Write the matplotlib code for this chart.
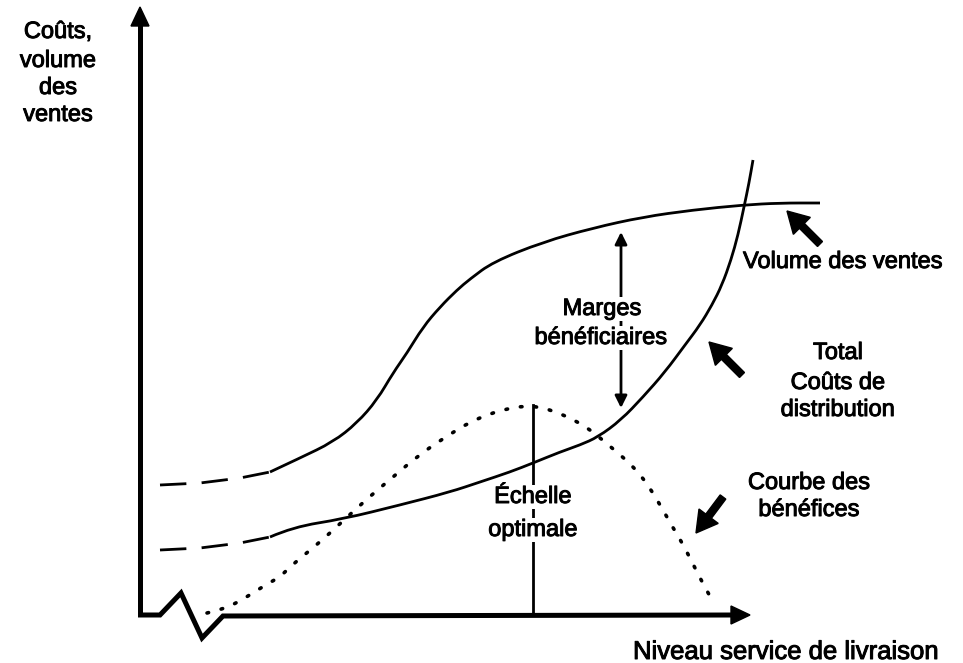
import matplotlib.pyplot as plt
import matplotlib.patheffects as pe
from matplotlib.patches import FancyArrow, Polygon, PathPatch
from matplotlib.path import Path

vol_dash_x = [160, 200, 240, 270]
vol_dash_y = [485, 483, 478, 472]
vol_x = [270, 300, 333, 357, 377, 393, 407, 423, 440, 457, 470, 493, 543, 593, 643, 693, 743, 780, 820]
vol_y = [472, 458, 442, 423, 400, 373, 353, 327, 307, 290, 279, 262, 242, 228, 217, 210, 205, 203, 203]

cost_dash_x = [160, 200, 240, 270]
cost_dash_y = [550, 548, 543, 537]
cost_x = [270, 293, 343, 400, 450, 480, 510, 533, 560, 580, 598, 621, 643, 665, 685, 700,
          712, 722, 731, 738, 744, 749, 753]
cost_y = [537, 527, 519, 505, 492, 482, 472, 463, 452, 445, 437, 420, 397, 372, 345, 325,
          305, 285, 260, 235, 207, 183, 160]

profit_x = [207, 224, 238, 253, 267, 280, 293, 319, 344, 368, 393, 419, 447, 470, 492, 507,
            523, 540, 556, 572, 586, 599, 612, 625, 638, 650, 663, 672, 681, 689, 700, 712]
profit_y = [613, 609, 602, 593, 584, 577, 564, 543, 520, 498, 477, 455, 436, 422, 413, 409,
            406, 407, 412, 419, 427, 437, 448, 459, 472, 488, 510, 526, 541, 556, 578, 600]

# axe horizontal avec la cassure
axis_x = [138, 160, 181, 202, 223, 735]
axis_y = [615, 615, 593, 638, 616, 615]

optimum_x = 533
optimum_top = 405

# flèches pointeurs (queue -> pointe)
pointers = [((820, 244), (787, 211)),
            ((742, 375), (709, 342)),
            ((723, 497), (696, 533))]

plt.rcParams['font.family'] = ['Liberation Sans', 'DejaVu Sans']


def smooth_path(xs, ys):
    # courbe quadratique passant par les milieux des segments
    pts = list(zip(xs, ys))
    verts = [pts[0]]
    codes = [Path.MOVETO]
    for i in range(1, len(pts) - 1):
        mid = ((pts[i][0] + pts[i + 1][0]) / 2, (pts[i][1] + pts[i + 1][1]) / 2)
        verts += [pts[i], mid]
        codes += [Path.CURVE3, Path.CURVE3]
    verts.append(pts[-1])
    codes.append(Path.LINETO)
    return Path(verts, codes)


fig = plt.figure(figsize=(9.63, 6.63), dpi=100)
ax = fig.add_axes([0, 0, 1, 1])
ax.set_xlim(0, 963)
ax.set_ylim(663, 0)
ax.axis('off')

lw_axis = 3.6
ax.plot([140, 140], [615, 22], color='black', lw=lw_axis, solid_capstyle='butt')
ax.add_patch(Polygon([[140, 7], [131, 26], [149, 26]], closed=True, color='black'))
ax.plot(axis_x, axis_y, color='black', lw=lw_axis, solid_joinstyle='miter',
        solid_capstyle='butt')
ax.add_patch(Polygon([[750, 615], [731, 606], [731, 624]], closed=True, color='black'))

lw_curve = 2.0
dashes = (9.5, 5.5)
ax.plot(vol_dash_x, vol_dash_y, color='black', lw=lw_curve, dashes=dashes)
ax.add_patch(PathPatch(smooth_path(vol_x, vol_y), fill=False, lw=lw_curve,
                       edgecolor='black', joinstyle='round'))
ax.plot(cost_dash_x, cost_dash_y, color='black', lw=lw_curve, dashes=dashes)
ax.add_patch(PathPatch(smooth_path(cost_x, cost_y), fill=False, lw=lw_curve,
                       edgecolor='black', joinstyle='round'))
ax.add_patch(PathPatch(smooth_path(profit_x, profit_y), fill=False, lw=2.6,
                       edgecolor='black', linestyle=(0, (0.45, 3.6)), capstyle='round'))

ax.plot([optimum_x, optimum_x], [optimum_top, 615], color='black', lw=2.0)

for (x0, y0), (x1, y1) in pointers:
    ax.add_patch(FancyArrow(x0, y0, x1 - x0, y1 - y0, width=7, head_width=24,
                            head_length=21, length_includes_head=True, color='black'))

ax.annotate('', xy=(621, 232), xytext=(621, 408),
            arrowprops=dict(arrowstyle='<|-|>', lw=2.0, color='black',
                            mutation_scale=18, shrinkA=0, shrinkB=0))

fs = 17
bold = [pe.withStroke(linewidth=0.7, foreground='black')]
box = dict(facecolor='white', edgecolor='none', pad=1)
for txt, y in zip(['Coûts,', 'volume', 'des', 'ventes'], [32, 61, 88, 115]):
    ax.text(58, y, txt, ha='center', va='center', fontsize=fs, path_effects=bold)
ax.text(743, 262, 'Volume des ventes', ha='left', va='center', fontsize=fs, path_effects=bold)
ax.text(602, 309, 'Marges', ha='center', va='center', fontsize=fs, bbox=box, path_effects=bold)
ax.text(601, 338, 'bénéficiaires', ha='center', va='center', fontsize=fs, bbox=box,
        path_effects=bold)
for txt, y in zip(['Total', 'Coûts de', 'distribution'], [353, 383, 410]):
    ax.text(838, y, txt, ha='center', va='center', fontsize=fs, path_effects=bold)
for txt, y in zip(['Courbe des', 'bénéfices'], [483, 510]):
    ax.text(809, y, txt, ha='center', va='center', fontsize=fs, path_effects=bold)
ax.text(533, 497, 'Échelle', ha='center', va='center', fontsize=fs, bbox=box, path_effects=bold)
ax.text(533, 530, 'optimale', ha='center', va='center', fontsize=fs, bbox=box, path_effects=bold)
ax.text(633, 652, 'Niveau service de livraison', ha='left', va='center', fontsize=18.5,
        path_effects=bold)

fig.savefig('out.png', dpi=100)
